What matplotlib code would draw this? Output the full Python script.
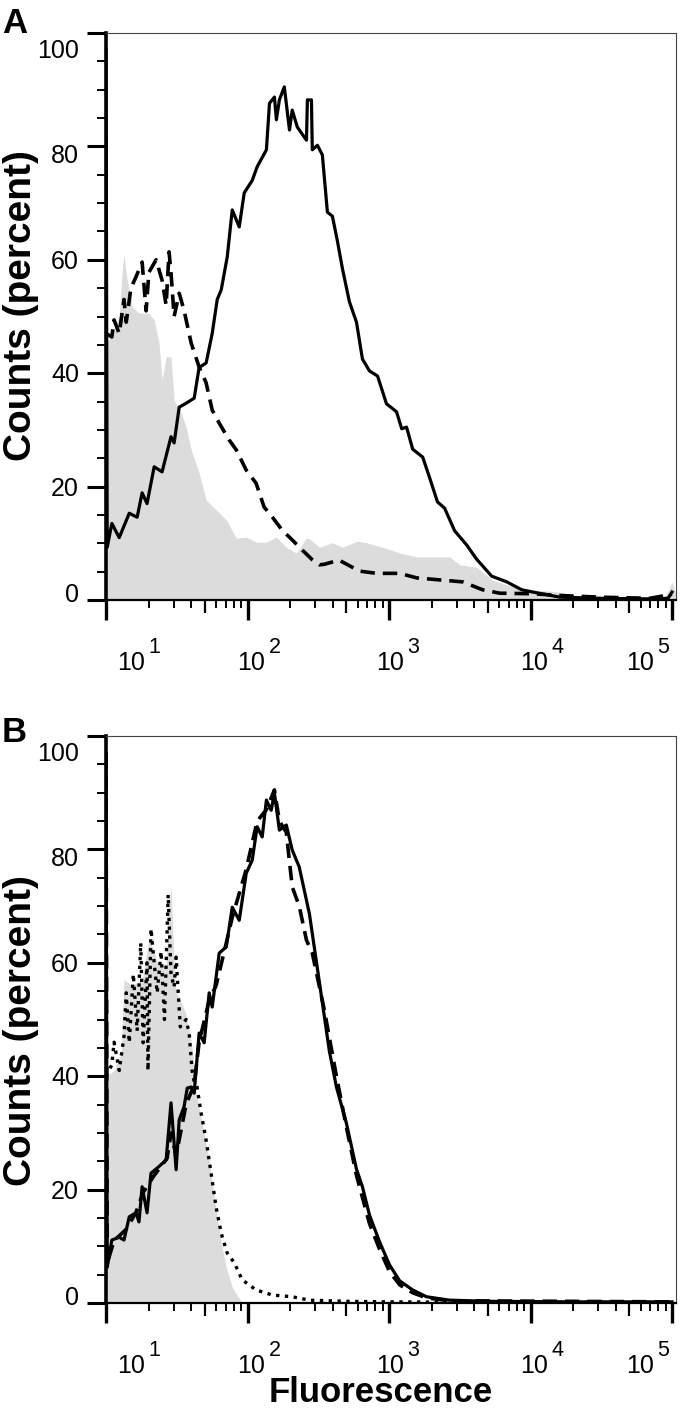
import numpy as np
import matplotlib
matplotlib.use('Agg')
from matplotlib import pyplot as plt
from matplotlib import transforms as mtrans
from matplotlib.ticker import FixedLocator, MultipleLocator, NullLocator, NullFormatter

plt.rcParams['font.family'] = ['Liberation Sans', 'DejaVu Sans']

# ---- panel A ----
a_gray_x = [10, 11.0, 12.4, 13.0, 13.4, 14.0, 15.0, 15.3, 17.1, 20.1, 21.9, 23.7, 24.9, 26.6, 28.8,
            30.3, 34.0, 36.8, 40.0, 45.5, 51.0, 60.0, 70.8, 83.2, 98.0, 115, 136, 160, 188, 221,
            261, 274, 322, 398, 469, 598, 693, 900, 1190, 1570, 2680, 3160, 4160, 5410, 8000,
            10400, 16100, 19900, 30900, 69800, 89200, 100000, 106700]
a_gray_y = [45, 47, 50, 58, 61, 57, 53, 51.7, 50.6, 50.6, 49.4, 45.3, 38.8, 42.9, 42.9,
            35.3, 33, 30.5, 26.5, 22.4, 17.6, 15.9, 14.1, 10.9, 11.1, 10.2, 10.2, 11.1, 9.3, 8.3,
            10.9, 10.8, 9.3, 10.1, 9.3, 10.4, 10.1, 9.3, 8.3, 7.6, 7.6, 6.2, 5.8, 3.5, 2.1,
            1.8, 1.4, 0.7, 0.5, 0.4, 0.5, 3.2, 1.0]

a_solid_x = [10, 10.2, 11.0, 12.4, 14.6, 16.6, 18.0, 19.5, 21.9, 24.9, 28.8, 30.3, 32.9, 36.8,
             42.0, 45.5, 51.0, 56.3, 61.1, 65.2, 71.9, 78.0, 87.4, 94.8, 108, 117, 136, 143,
             155, 160, 168, 182, 198, 207, 225, 240, 261, 265, 283, 287, 312, 338, 367, 398,
             432, 469, 525, 589, 649, 728, 830, 960, 1130, 1230, 1330, 1470, 1730, 1940, 2200,
             2470, 2910, 3540, 4160, 5320, 6790, 8670, 10400, 16100, 30900, 69800, 93700, 100000]
a_solid_y = [97, 9.3, 13.5, 11, 15.3, 14.6, 18.9, 17, 23.5, 22.6, 28.8, 27.7, 34, 34.7,
             35.6, 41, 41.8, 47, 53, 54.7, 60.5, 68.8, 65.8, 71.8, 74, 76.4, 79.4, 87.6,
             88.7, 84.7, 88.2, 90.5, 82.9, 86.4, 83.4, 82.4, 81.1, 88.2, 88.2, 79.4, 80.2, 78.5, 68.4, 67.7,
             63.3, 58.4, 52.6, 49, 42.5, 40.4, 39.5, 34.6, 33.2, 30.2, 30.5, 26.6, 25.2, 21.5, 17.3,
             16.2, 12.2, 9.7, 7.2, 4.2, 3.2, 1.8, 1.4, 0.5, 0.3, 0.2, 0.3, 1.4]

a_dash_x = [10, 11.0, 11.4, 12.4, 13.4, 13.9, 15.0, 16.3, 18.0, 19.2, 20.1, 22.6, 24.9, 26.6,
            27.9, 28.8, 30.3, 32.9, 35.6, 40.0, 45.5, 51.0, 56.3, 63.1, 74.3, 83.2, 98.0, 115,
            131, 150, 176, 207, 244, 287, 322, 349, 398, 446, 618, 816, 1190, 1570, 2390, 3310,
            4590, 6060, 10400, 16100, 30900, 69800, 100000]
a_dash_y = [47, 46.4, 49.4, 47, 53, 49, 55, 57, 59.6, 51, 57.8, 60, 56.4, 52,
            61.4, 57.7, 50, 54.1, 51.1, 45.3, 41.1, 38.3, 33.5, 31.2, 28.2, 26.5, 22.9, 20.6,
            16.4, 14.6, 12.3, 10.6, 8.8, 7.1, 6.2, 6.3, 6.7, 7.0, 5.1, 4.7, 4.7, 3.9, 3.5, 3.2,
            1.8, 1.2, 1.1, 0.8, 0.5, 0.3, 1.0]

# ---- panel B ----
b_gray_x = [10, 11.4, 12.8, 13.4, 15.3, 18.0, 20.1, 21.9, 23.0, 26.6, 27.9, 28.8, 30.3, 31.3,
            36.8, 40.6, 43.4, 53.6, 60.0, 65.2, 70.8, 78.0, 91.6, 106700]
b_gray_y = [40, 41, 44, 57, 56, 57, 64, 62, 60, 59, 70, 73.4, 60, 55,
            51, 45, 37, 25.2, 16.4, 10.6, 6.3, 2.8, 0, 0]

b_solid_x = [10, 10.2, 11.0, 12.4, 13.4, 14.6, 16.3, 17.1, 18.0, 19.5, 20.8, 23.0, 26.6, 28.8,
             31.3, 32.9, 35.6, 37.5, 40.0, 42.0, 45.5, 49.4, 53.6, 56.3, 63.1, 70.8, 78.0, 87.4,
             98.0, 108, 117, 127, 136, 147, 155, 168, 188, 207, 232, 274, 322, 379, 425, 500,
             589, 649, 728, 857, 1010, 1190, 1470, 1840, 2680, 5000, 20000, 100000]
b_solid_y = [97, 6.3, 11.1, 11.6, 11.1, 15.2, 15.9, 14.3, 20.5, 15.9, 22.9, 23.8, 25.2, 35.3,
             23.5, 32.3, 34.6, 37.9, 38.1, 37, 47.6, 45.9, 54.7, 52.2, 61.7, 62.8, 69.8, 67.5,
             75.8, 78.1, 84, 82.2, 88.7, 86.9, 89.9, 83.4, 84.3, 79.9, 76.9, 68.6, 56.6, 44.4, 38.1, 31.7,
             23.6, 20.5, 15.5, 10.8, 6.7, 3.9, 2.3, 1.1, 0.5, 0.3, 0.2, 0.2]

b_dash_x = [10, 10.2, 11.4, 13.9, 16.3, 18.3, 21.9, 27.0, 28.8, 31.3, 36.8, 42.0, 45.5, 53.6,
            60.0, 70.8, 78.0, 98.0, 117, 136, 155, 168, 188, 207, 232, 261, 287, 349, 425, 500,
            589, 728, 857, 1010, 1190, 1470, 1840, 2680, 100000]
b_dash_y = [97, 7, 11, 13, 16, 19.5, 22.5, 25.5, 30, 26, 35, 38.5, 46, 53.4,
            56, 63.5, 68, 76.5, 85, 87, 90.5, 85, 83, 73.4, 70, 64, 61.7, 51.7, 40, 31,
            22.5, 14, 9.5, 5.5, 3.2, 1.8, 0.9, 0.4, 0.2]

b_dot_x = [10, 11.0, 11.4, 12.4, 13.4, 13.9, 14.6, 15.6, 16.6, 17.6, 18.3, 19.5, 19.8, 20.8,
           21.9, 23.0, 24.5, 25.9, 27.5, 28.8, 30.3, 31.3, 33.5, 36.8, 38.7, 40.6, 42.0, 44.0,
           47.0, 51.0, 55.3, 60.0, 65.2, 71.9, 80.6, 91.6, 115, 150, 207, 274, 500, 1000,
           5000, 100000]
b_dot_y = [40, 42, 46, 41, 47, 54.7, 45.9, 58, 48, 63.5, 45.9, 60, 41, 66,
           60, 54.7, 62, 50, 72, 58, 55.7, 61, 48.7, 50, 47.6, 41, 39, 38.1,
           33.5, 28.7, 22.9, 16.9, 12.3, 8.8, 7.1, 4.1, 2.3, 1.4, 1.1, 0.5, 0.3, 0.2,
           0.1, 0.1]

decades = [10, 100, 1000, 10000, 100000]
dec_exps = ['1', '2', '3', '4', '5']
lbl_dx = [11, -10, -13, -10, -46]          # px shift of the "10" from the tick
yticks = [0, 20, 40, 60, 80, 100]
ylbl_dy = [2, 9, 9, 9, 17, 25]             # px baseline below the tick

GRAY = '#dcdcdc'
DASH = (0, (4, 2.2))


def styleAxes(fg, ax):
  ax.set_xscale('log')
  ax.set_xlim(10, 1.067e5)
  ax.set_ylim(0, 100)
  ax.xaxis.set_major_locator(FixedLocator(decades))
  mnr = [d*m for d in decades[:-1] for m in (2, 3, 4, 6, 7, 8, 9)]
  ax.xaxis.set_minor_locator(FixedLocator(mnr))
  ax.xaxis.set_major_formatter(NullFormatter())
  ax.xaxis.set_minor_formatter(NullFormatter())
  ax.set_yticks(yticks)
  ax.yaxis.set_minor_locator(MultipleLocator(5))
  ax.set_yticklabels([])
  ax.tick_params(axis='y', which='major', direction='out', length=13.7, width=2.2)
  ax.tick_params(axis='y', which='minor', direction='out', length=6.5, width=1.4)
  ax.tick_params(axis='x', which='major', direction='out', length=14.4, width=2.4)
  ax.tick_params(axis='x', which='minor', direction='out', length=5.5, width=1.4)

  sec = ax.secondary_xaxis('bottom')
  sec.set_xticks([5*d for d in decades[:-1]])
  sec.xaxis.set_minor_locator(NullLocator())
  sec.tick_params(axis='x', which='both', direction='out', length=9, width=1.6, labelbottom=False)
  sec.spines['bottom'].set_visible(False)

  ax.spines['left'].set_linewidth(2.6)
  ax.spines['bottom'].set_linewidth(1.6)
  for s in ['top', 'right']:
    ax.spines[s].set_linewidth(0.8)
    ax.spines[s].set_color('#444444')

  px = fg.dpi_scale_trans
  # y tick labels
  ytr = mtrans.blended_transform_factory(ax.transAxes, ax.transData)
  for v, dy in zip(yticks, ylbl_dy):
    ax.text(0, v, str(v), fontsize=18, ha='right', va='baseline',
            transform=ytr + mtrans.ScaledTranslation(-27/100., -dy/100., px))
  # x tick labels as 10 with superscript
  xtr = mtrans.blended_transform_factory(ax.transData, ax.transAxes)
  for d, e, dx in zip(decades, dec_exps, lbl_dx):
    ax.text(d, 0, '10', fontsize=18, ha='left', va='baseline', clip_on=False,
            transform=xtr + mtrans.ScaledTranslation(dx/100., -70/100., px))
    ax.text(d, 0, e, fontsize=15.5, ha='left', va='baseline', clip_on=False,
            transform=xtr + mtrans.ScaledTranslation((dx + 31)/100., -53/100., px))

  ax.set_ylabel('Counts (percent)', fontsize=28, fontweight='bold')


fg = plt.figure(figsize=(6.8, 14.14), dpi=100)
axA = fg.add_axes([106/680., 1 - 600/1414., 570/680., 567/1414.])
axB = fg.add_axes([106/680., 1 - 1303/1414., 570/680., 567/1414.])

axA.fill_between(a_gray_x, a_gray_y, 0, color=GRAY, lw=0, zorder=1)
axA.plot(a_dash_x, a_dash_y, color='black', lw=2.6, ls=DASH, zorder=3)
axA.plot(a_solid_x, a_solid_y, color='black', lw=2.3, zorder=4)

axB.fill_between(b_gray_x, b_gray_y, 0, color=GRAY, lw=0, zorder=1)
axB.plot(b_dot_x, b_dot_y, color='black', lw=2.4, ls=':', zorder=3)
axB.plot(b_dash_x, b_dash_y, color='black', lw=2.6, ls=DASH, zorder=3)
axB.plot(b_solid_x, b_solid_y, color='black', lw=2.3, zorder=4)

styleAxes(fg, axA)
styleAxes(fg, axB)
axA.yaxis.set_label_coords(-0.1175, 0.52)
axB.yaxis.set_label_coords(-0.1175, 0.48)

axB.set_xlabel('Fluorescence', fontsize=25, fontweight='bold')
axB.xaxis.set_label_coords(0.482, -0.128)

fg.text(2/680., 1 - 33/1414., 'A', fontsize=25, fontweight='bold', va='baseline')
fg.text(2/680., 1 - 742/1414., 'B', fontsize=25, fontweight='bold', va='baseline')

fg.savefig('out.png', dpi=100)
